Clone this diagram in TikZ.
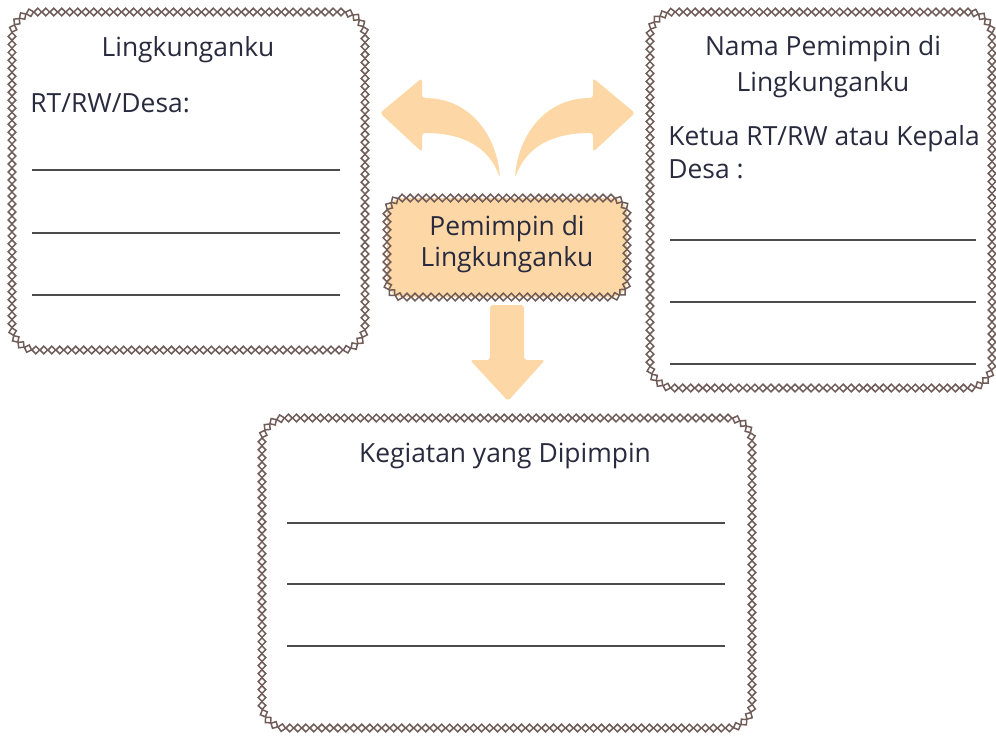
\documentclass[tikz,border=0pt]{standalone}
\usepackage{fontspec}
\setmainfont{Open Sans}
\usetikzlibrary{decorations.markings}
\definecolor{framebrown}{RGB}{112,92,88}
\definecolor{arrowpeach}{RGB}{253,216,166}
\definecolor{inkblue}{RGB}{40,42,62}
\tikzset{
  frame/.style={rectangle, inner sep=0pt, rounded corners=12pt,
    postaction={decorate, decoration={markings,
      mark=between positions 0 and 0.998 step #1 with {
        \draw[framebrown, line width=0.75pt, sharp corners]
          (-1.9pt,0pt) -- (0pt,1.9pt) -- (1.9pt,0pt) -- (0pt,-1.9pt) -- cycle;}}}},
  label/.style={text=inkblue, inner sep=0pt, font=\fontsize{13.2}{16}\selectfont},
  blank/.style={draw=black!70, line width=0.7pt},
  bigarrow/.style={fill=arrowpeach, rounded corners=1.5pt}
}
\begin{document}
\begin{tikzpicture}[x=0.5pt, y=-0.5pt]
    \useasboundingbox (0,0) rectangle (996,736);
    % arrows
    \fill[bigarrow] (380,113) -- (422,78) -- (422,98) .. controls (472,98) and (497,138) .. (500,178)
      .. controls (488,146) and (462,133) .. (422,133) -- (422,152) -- cycle;
    \fill[bigarrow] (635,113) -- (593,78) -- (593,98) .. controls (543,98) and (518,138) .. (515,178)
      .. controls (527,146) and (553,133) .. (593,133) -- (593,152) -- cycle;
    \fill[bigarrow] (490,305) -- (524,305) -- (524,360) -- (545,360) -- (508,401) -- (470,360) -- (490,360) -- cycle;
    % boxes
    \node [frame=0.005952, minimum width=176.5pt, minimum height=169pt] (lingk) at (188.5,181) {};
    \node [frame=0.005747, minimum width=171pt, minimum height=188pt] (nama) at (821,200) {};
    \node [frame=0.005128, minimum width=245pt, minimum height=155pt] (kegiatan) at (507,573) {};
    \node [frame=0.012346, rounded corners=8pt, fill=arrowpeach, minimum width=120pt, minimum height=49.5pt] (pemimpin) at (507,247.5) {};
    % texts
    \node [label, anchor=base] (t1) at (188,56) {Lingkunganku};
    \node [label, anchor=base west] (t2) at (30,112) {RT/RW/Desa:};
    \node [label, anchor=base] (t3) at (823,55) {Nama Pemimpin di};
    \node [label, anchor=base] (t4) at (823,91) {Lingkunganku};
    \node [label, anchor=base west] (t5) at (668,145) {Ketua RT/RW atau Kepala};
    \node [label, anchor=base west] (t6) at (668,178) {Desa :};
    \node [label, anchor=base] (t7) at (507,235) {Pemimpin di};
    \node [label, anchor=base] (t8) at (507,266) {Lingkunganku};
    \node [label, anchor=base] (t9) at (505,462) {Kegiatan yang Dipimpin};
    % blanks
    \draw[blank] (32,170) -- (340,170) (32,233) -- (340,233) (32,295) -- (340,295);
    \draw[blank] (670,240) -- (976,240) (670,302) -- (976,302) (670,364) -- (976,364);
    \draw[blank] (287,523) -- (725,523) (287,584) -- (725,584) (287,646) -- (725,646);
  \end{tikzpicture}
\end{document}
